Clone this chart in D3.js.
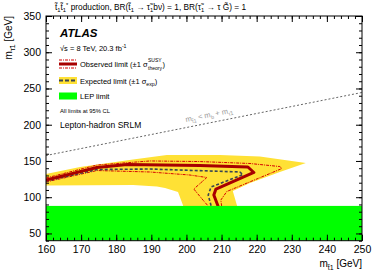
<!DOCTYPE html>
<html>
<head>
<meta charset="utf-8">
<script src="https://cdn.jsdelivr.net/npm/d3@7"></script>
<style>
  body { margin: 0; background: #fff; }
  text { font-family: "Liberation Sans", Arial, Helvetica, sans-serif; }
</style>
</head>
<body>
<svg id="chart" width="382" height="273"></svg>
<script>
// limit contours, [m_stop, m_stau] in GeV
var observed = [[160,123.7],[174.5,141],[183.1,145.1],[203.8,143.7],[217.5,141.7],[219.2,134.1],[208.4,111.3],[207.8,103],[209.2,85]];
var obsUp    = [[160,126.5],[174.5,144.4],[189.6,150],[203.8,149.2],[218.1,146.5],[226.6,142.3],[227.2,139.6],[211.5,107.9],[209.8,96.1],[210.1,85]];
var obsDown  = [[160,121],[174.5,136.8],[189.6,134.8],[201,130.6],[205.8,127.2],[202.1,111.3],[204.7,96.1],[206.7,85]];
var expected = [[160,122.3],[174.5,138.2],[189.6,138.9],[215.2,134.8],[216.1,131.3],[207,114],[206.2,103],[207.2,85]];
// expected +-1 sigma band outline
var bandUpper = [[160,132],[169.7,141.7],[184.8,152],[194.4,158.2],[209.5,158.2],[220.9,156.1],[234,147.2]];
var bandLower = [[226.6,134.8],[218.1,119.6],[213.2,108.6],[214.6,85],[199.3,85],[197.6,107.2],[193.9,112.7],[191.6,114.8],[184.8,116.8],[160,116.1]];
var lepLimit = 88;
// kinematic boundary
var kinLine = [[160,157.5],[250,244.5]];

var xMajor = [160,170,180,190,200,210,220,230,240,250];
var yMajor = [50,100,150,200,250,300,350];

var svg = d3.select("#chart");
var pL = 46, pR = 362, pT = 16, pB = 240.7;

var x = d3.scaleLinear().domain([160, 250]).range([pL, pR]);
var y = d3.scaleLinear().domain([40, 350]).range([pB, pT]);

var line = d3.line().x(function(d){ return x(d[0]); }).y(function(d){ return y(d[1]); });

svg.append("defs").append("clipPath").attr("id", "plot")
  .append("rect").attr("x", pL).attr("y", pT).attr("width", pR-pL).attr("height", pB-pT);

var g = svg.append("g").attr("clip-path", "url(#plot)");

// yellow band
g.append("path")
  .attr("d", line(bandUpper.concat(bandLower)) + "Z")
  .attr("fill", "#ffe135");

// theory dotted lines
[obsUp, obsDown].forEach(function(d) {
  g.append("path").attr("d", line(d))
    .attr("fill", "none").attr("stroke", "#d40000").attr("stroke-width", 1)
    .attr("stroke-dasharray", "3,1,1,1");
});

// expected
g.append("path").attr("d", line(expected))
  .attr("fill", "none").attr("stroke", "#3a4552").attr("stroke-width", 1.6)
  .attr("stroke-dasharray", "3,2");

// observed
g.append("path").attr("d", line(observed))
  .attr("fill", "none").attr("stroke", "#a80000").attr("stroke-width", 3)
  .attr("stroke-linejoin", "round");

// LEP
g.append("rect")
  .attr("x", x(160)).attr("y", y(lepLimit))
  .attr("width", x(250) - x(160)).attr("height", y(40) - y(lepLimit))
  .attr("fill", "#00ff00");

// kinematic line
g.append("path").attr("d", line(kinLine))
  .attr("fill", "none").attr("stroke", "#666").attr("stroke-width", 1)
  .attr("stroke-dasharray", "2,2");

// frame
svg.append("rect").attr("x", pL).attr("y", pT).attr("width", pR-pL).attr("height", pB-pT)
  .attr("fill", "none").attr("stroke", "#000").attr("stroke-width", 1);

// axes, ticks pointing inwards
function minor(lo, hi, step) { return d3.range(lo, hi + 0.001, step); }

function addAxis(gen, tr, vals, size, labels) {
  var a = svg.append("g").attr("transform", tr)
    .call(gen.tickValues(vals).tickSize(-size).tickPadding(labels ? 5 : 0)
      .tickFormat(labels ? d3.format("d") : ""));
  a.select(".domain").remove();
  a.selectAll("line").attr("stroke", "#000");
  a.selectAll("text").attr("font-size", 10.5).attr("fill", "#000");
  return a;
}

addAxis(d3.axisBottom(x), "translate(0," + pB + ")", xMajor, 6, true);
addAxis(d3.axisBottom(x), "translate(0," + pB + ")", minor(160, 250, 2), 3, false);
addAxis(d3.axisTop(x), "translate(0," + pT + ")", xMajor, 6, false);
addAxis(d3.axisTop(x), "translate(0," + pT + ")", minor(160, 250, 2), 3, false);
addAxis(d3.axisLeft(y), "translate(" + pL + ",0)", yMajor, 6, true);
addAxis(d3.axisLeft(y), "translate(" + pL + ",0)", minor(40, 350, 10), 3, false);
addAxis(d3.axisRight(y), "translate(" + pR + ",0)", yMajor, 6, false);
addAxis(d3.axisRight(y), "translate(" + pR + ",0)", minor(40, 350, 10), 3, false);

// rich text helper: parts are [text, "sub"|"sup"|""]
function rich(t, parts, size) {
  var shift = 0;
  parts.forEach(function(p) {
    var want = p[1] === "sub" ? size * 0.3 : p[1] === "sup" ? -size * 0.38 : 0;
    var s = t.append("tspan").attr("dy", want - shift).text(p[0]);
    if (p[1]) s.attr("font-size", size * 0.7);
    shift = want;
  });
  return t;
}

// axis titles
rich(svg.append("text").attr("x", pR).attr("y", 267).attr("text-anchor", "end").attr("font-size", 10),
  [["m", ""], ["t\u0303", "sub"], ["1", "sub"], [" [GeV]", ""]], 10);
rich(svg.append("text").attr("transform", "translate(12," + pT + ") rotate(-90)")
  .attr("text-anchor", "end").attr("font-size", 10),
  [["m", ""], ["\u03c4\u0303", "sub"], ["1", "sub"], [" [GeV]", ""]], 10);

// header
rich(svg.append("text").attr("x", 55).attr("y", 10).attr("font-size", 8.3),
  [["t\u0303", ""], ["1", "sub"], ["t\u0303", ""], ["1", "sub"], ["*", "sup"],
   [" production, BR(t\u0303", ""], ["1", "sub"], [" \u2192 \u03c4\u0303", ""], ["1", "sub"],
   ["b\u03bd) = 1, BR(\u03c4\u0303", ""], ["1", "sub"], [" \u2192 \u03c4 G\u0303) = 1", ""]], 8.3);

svg.append("text").attr("x", 60).attr("y", 37).attr("font-size", 11.5)
  .attr("font-weight", "bold").attr("font-style", "italic").text("ATLAS");
rich(svg.append("text").attr("x", 60).attr("y", 51).attr("font-size", 7.5),
  [["\u221as = 8 TeV, 20.3 fb", ""], ["-1", "sup"]], 7.5);

// legend
var lx0 = 59, lx1 = 77;
var ly = 64;
svg.append("line").attr("x1", lx0).attr("x2", lx1).attr("y1", ly).attr("y2", ly)
  .attr("stroke", "#a80000").attr("stroke-width", 3);
[ly - 4, ly + 4].forEach(function(v) {
  svg.append("line").attr("x1", lx0).attr("x2", lx1).attr("y1", v).attr("y2", v)
    .attr("stroke", "#d40000").attr("stroke-width", 1).attr("stroke-dasharray", "3,1,1,1");
});
var t1 = svg.append("text").attr("x", 80).attr("y", ly + 3).attr("font-size", 7.5)
  .text("Observed limit (\u00b11 \u03c3");
var w1 = t1.node().getComputedTextLength();
svg.append("text").attr("x", 80 + w1 + 0.5).attr("y", ly - 2).attr("font-size", 5).text("SUSY");
var t1b = svg.append("text").attr("x", 80 + w1 + 0.5).attr("y", ly + 6).attr("font-size", 5).text("theory");
var w1b = t1b.node().getComputedTextLength();
svg.append("text").attr("x", 80 + w1 + w1b + 1).attr("y", ly + 3).attr("font-size", 7.5).text(")");

ly = 80.5;
svg.append("rect").attr("x", lx0).attr("y", ly - 3.5).attr("width", lx1 - lx0).attr("height", 7).attr("fill", "#ffe135");
svg.append("line").attr("x1", lx0).attr("x2", lx1).attr("y1", ly).attr("y2", ly)
  .attr("stroke", "#3a4552").attr("stroke-width", 1.8).attr("stroke-dasharray", "4,2");
rich(svg.append("text").attr("x", 80).attr("y", ly + 3).attr("font-size", 7.5),
  [["Expected limit (\u00b11 \u03c3", ""], ["exp", "sub"], [")", ""]], 7.5);

ly = 96;
svg.append("rect").attr("x", lx0).attr("y", ly - 3.5).attr("width", lx1 - lx0).attr("height", 7).attr("fill", "#00ff00");
svg.append("text").attr("x", 80).attr("y", ly + 3).attr("font-size", 7.5).text("LEP limit");

svg.append("text").attr("x", 60).attr("y", 113).attr("font-size", 5.8).text("All limits at 95% CL");
svg.append("text").attr("x", 60).attr("y", 127.5).attr("font-size", 8.5).text("Lepton-hadron SRLM");

// kinematic label along the line
var ang = Math.atan2(y(kinLine[1][1]) - y(kinLine[0][1]), x(kinLine[1][0]) - x(kinLine[0][0])) * 180 / Math.PI;
rich(svg.append("text").attr("transform", "translate(186,122) rotate(" + ang + ")")
  .attr("font-size", 7.5).attr("fill", "#999"),
  [["m", ""], ["t\u0303", "sub"], ["1", "sub"], [" < m", ""], ["b", "sub"], [" + m", ""], ["\u03c4\u0303", "sub"], ["1", "sub"]], 7.5);
</script>
</body>
</html>
